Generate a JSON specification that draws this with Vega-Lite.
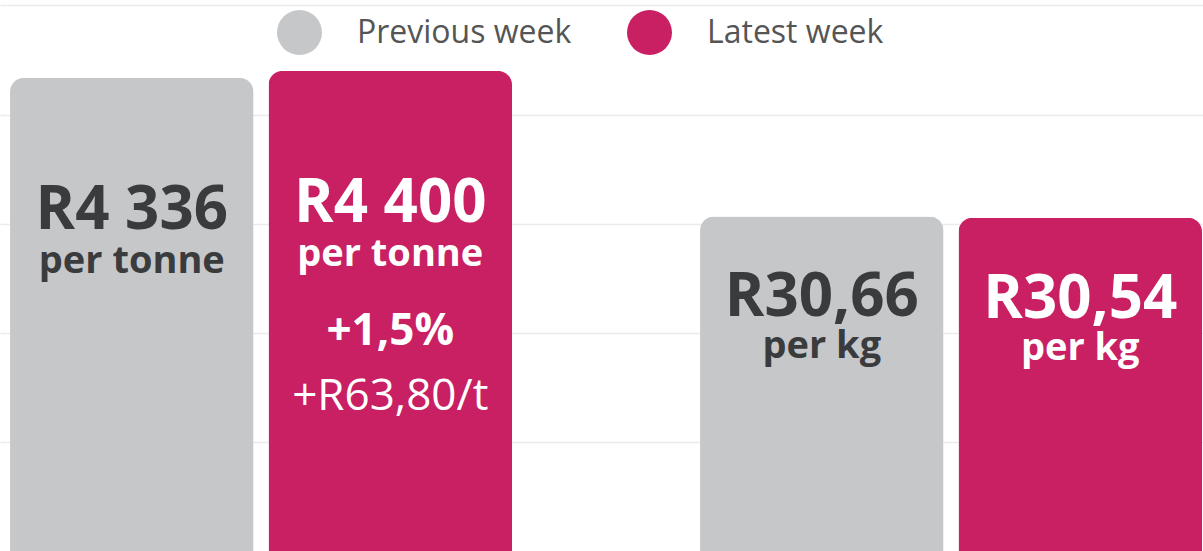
{
  "$schema": "https://vega.github.io/schema/vega-lite/v6.json",
  "width": 1203,
  "height": 551,
  "autosize": {"type": "fit", "contains": "padding"},
  "padding": 0,
  "background": "white",
  "config": {"view": {"stroke": null}, "font": "Open Sans"},
  "data": {
    "values": [
      {"product": "tonne", "week": "Previous week", "value": 4336, "label": "R4 336", "unit": "per tonne", "pct": "", "change": ""},
      {"product": "tonne", "week": "Latest week", "value": 4400, "label": "R4 400", "unit": "per tonne", "pct": "+1,5%", "change": "+R63,80/t"},
      {"product": "kg", "week": "Previous week", "value": 30.66, "label": "R30,66", "unit": "per kg", "pct": "", "change": ""},
      {"product": "kg", "week": "Latest week", "value": 30.54, "label": "R30,54", "unit": "per kg", "pct": "", "change": ""}
    ]
  },
  "encoding": {
    "x": {"field": "product", "type": "nominal", "sort": ["tonne", "kg"], "scale": {"paddingInner": 0.2725, "paddingOuter": 0.008, "align": 0.91}, "axis": null},
    "xOffset": {"field": "week", "type": "nominal", "sort": ["Previous week", "Latest week"], "scale": {"paddingInner": 0.058, "paddingOuter": 0}}
  },
  "layer": [
    {
      "transform": [{"filter": "datum.product === 'tonne'"}],
      "encoding": {
        "y": {"field": "value", "type": "quantitative", "scale": {"domain": [0, 5050], "nice": false, "zero": true},
          "axis": {"title": null, "labels": false, "ticks": false, "domain": false, "grid": true, "values": [1000, 2000, 3000, 4000, 5000], "gridColor": "#ebebeb", "gridWidth": 1.5, "minExtent": 0, "maxExtent": 0}}
      },
      "layer": [
        {
          "mark": {"type": "bar", "cornerRadiusTopLeft": 14, "cornerRadiusTopRight": 14},
          "encoding": {
            "color": {"field": "week", "type": "nominal",
              "scale": {"domain": ["Previous week", "Latest week"], "range": ["#c6c7c9", "#c91f63"]},
              "legend": {"orient": "none", "legendX": 277, "legendY": 10, "direction": "horizontal", "title": null,
                "symbolType": "circle", "symbolSize": 2025, "symbolStrokeWidth": 0,
                "labelFontSize": 32, "labelColor": "#555555", "labelFont": "Open Sans", "labelOffset": 35, "columnPadding": 55, "labelLimit": 0,
                "encode": {"symbols": {"update": {"fill": {"condition": {"test": "datum.value === 'Previous week'", "value": "#9c9d9f"}, "value": "#c91f63"}}}}}
            }
          }
        },
        {
          "mark": {"type": "text", "fontSize": 60, "fontWeight": "bold", "baseline": "alphabetic", "dy": 151},
          "encoding": {"text": {"field": "label"}, "color": {"condition": {"test": "datum.week === 'Latest week'", "value": "white"}, "value": "#3a3b3d"}}
        },
        {
          "mark": {"type": "text", "fontSize": 38, "fontWeight": "bold", "baseline": "alphabetic", "dy": 195},
          "encoding": {"text": {"field": "unit"}, "color": {"condition": {"test": "datum.week === 'Latest week'", "value": "white"}, "value": "#3a3b3d"}}
        },
        {
          "mark": {"type": "text", "fontSize": 44, "fontWeight": "bold", "baseline": "alphabetic", "dy": 274, "color": "white"},
          "encoding": {"text": {"field": "pct"}}
        },
        {
          "mark": {"type": "text", "fontSize": 44, "fontWeight": "normal", "baseline": "alphabetic", "dy": 339, "color": "white"},
          "encoding": {"text": {"field": "change"}}
        }
      ]
    },
    {
      "transform": [{"filter": "datum.product === 'kg'"}],
      "encoding": {
        "y": {"field": "value", "type": "quantitative", "scale": {"domain": [0, 50.5], "nice": false, "zero": true}, "axis": null}
      },
      "layer": [
        {
          "mark": {"type": "bar", "cornerRadiusTopLeft": 14, "cornerRadiusTopRight": 14},
          "encoding": {
            "color": {"field": "week", "type": "nominal", "scale": {"domain": ["Previous week", "Latest week"], "range": ["#c6c7c9", "#c91f63"]},
              "legend": {"orient": "none", "legendX": 277, "legendY": 10, "direction": "horizontal", "title": null,
                "symbolType": "circle", "symbolSize": 2025, "symbolStrokeWidth": 0,
                "labelFontSize": 32, "labelColor": "#555555", "labelFont": "Open Sans", "labelOffset": 35, "columnPadding": 55, "labelLimit": 0,
                "encode": {"symbols": {"update": {"fill": {"condition": {"test": "datum.value === 'Previous week'", "value": "#9c9d9f"}, "value": "#c91f63"}}}}}
            }
          }
        },
        {
          "mark": {"type": "text", "fontSize": 60, "fontWeight": "bold", "baseline": "alphabetic", "dy": 100},
          "encoding": {"text": {"field": "label"}, "color": {"condition": {"test": "datum.week === 'Latest week'", "value": "white"}, "value": "#3a3b3d"}}
        },
        {
          "mark": {"type": "text", "fontSize": 38, "fontWeight": "bold", "baseline": "alphabetic", "dy": 142},
          "encoding": {"text": {"field": "unit"}, "color": {"condition": {"test": "datum.week === 'Latest week'", "value": "white"}, "value": "#3a3b3d"}}
        }
      ]
    }
  ],
  "resolve": {"scale": {"y": "independent"}}
}
